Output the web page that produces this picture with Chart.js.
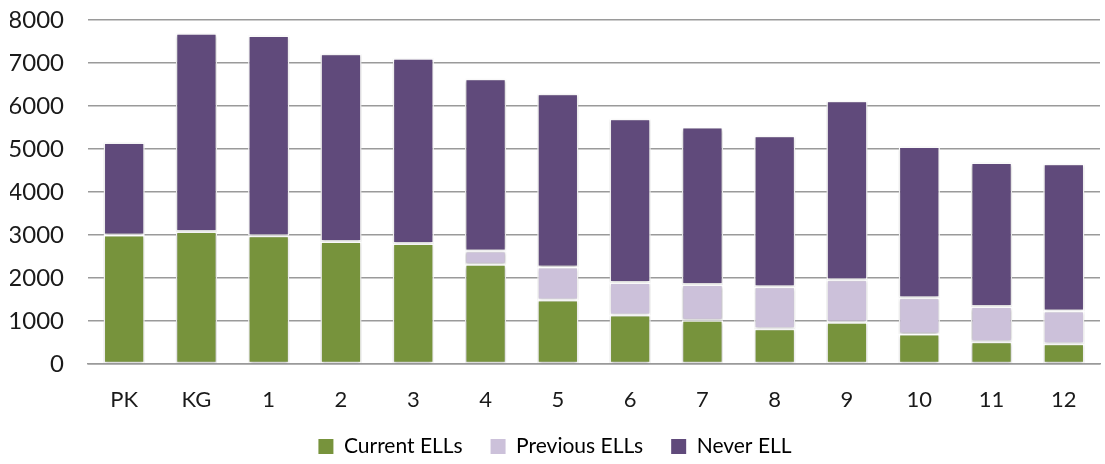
<!DOCTYPE html>
<html>
<head>
<meta charset="utf-8">
<script src="https://cdn.jsdelivr.net/npm/chart.js@4/dist/chart.umd.min.js"></script>
<style>
  html, body { margin: 0; padding: 0; background: #ffffff; }
  #wrap { width: 1105px; height: 464px; }
</style>
</head>
<body>
<div id="wrap"><canvas id="chart" width="1105" height="464"></canvas></div>
<script>
// Grade levels along the horizontal axis
const grades = ['PK', 'KG', '1', '2', '3', '4', '5', '6', '7', '8', '9', '10', '11', '12'];

// Student counts per grade, by English learner status
const currentELLs  = [3000, 3080, 2980, 2850, 2800, 2320, 1490, 1140, 1015, 820, 970, 695, 515, 470];
const previousELLs = [0, 0, 0, 0, 0, 310, 765, 755, 835, 975, 990, 845, 820, 765];
const neverELL     = [2150, 4610, 4660, 4365, 4310, 4005, 4030, 3810, 3660, 3515, 4160, 3520, 3350, 3420];

// Value axis ticks
const yTicks = [0, 1000, 2000, 3000, 4000, 5000, 6000, 7000, 8000];

const FONT = 'Lato, "Open Sans", sans-serif';

// Soft drop shadow behind the bar segments
const barShadow = {
  id: 'barShadow',
  beforeDatasetsDraw(chart) {
    const c = chart.ctx;
    c.save();
    c.shadowColor = 'rgba(0,0,0,0.28)';
    c.shadowBlur = 3;
    c.shadowOffsetX = 0;
    c.shadowOffsetY = 1;
  },
  afterDatasetsDraw(chart) {
    chart.ctx.restore();
  }
};

// The category axis box is kept short so the legend sits close; let its labels overflow it
const freeCategoryLabels = {
  id: 'freeCategoryLabels',
  beforeDraw(chart) {
    chart.scales.x._computeLabelArea = () => undefined;
  }
};

const seg = (label, data, color) => ({
  label, data,
  backgroundColor: color,
  borderColor: '#ffffff',
  borderWidth: 1.5,
  borderSkipped: false,
  barPercentage: 0.57,
  categoryPercentage: 1.0
});

new Chart(document.getElementById('chart'), {
  type: 'bar',
  data: {
    labels: grades,
    datasets: [
      seg('Current ELLs', currentELLs, '#77933C'),
      seg('Previous ELLs', previousELLs, '#CCC1DA'),
      seg('Never ELL', neverELL, '#604A7B')
    ]
  },
  options: {
    responsive: false,
    animation: false,
    layout: { padding: { top: 20, left: 10, right: 5, bottom: -3 } },
    plugins: {
      tooltip: { enabled: false },
      legend: {
        position: 'bottom',
        labels: {
          color: '#1a1a1a',
          font: { family: FONT, size: 21 },
          boxWidth: 15,
          boxHeight: 15,
          padding: 28,
          generateLabels(chart) {
            return chart.data.datasets.map((d, i) => ({
              text: d.label,
              fillStyle: d.backgroundColor,
              strokeStyle: d.backgroundColor,
              lineWidth: 0,
              datasetIndex: i,
              hidden: false
            }));
          }
        }
      }
    },
    scales: {
      x: {
        stacked: true,
        grid: { display: false, drawTicks: false },
        border: { display: true, color: '#9a9a9a', width: 1.5 },
        ticks: { color: '#1a1a1a', font: { family: FONT, size: 22 }, padding: 23 },
        afterFit(scale) { scale.height = 44; }
      },
      y: {
        stacked: true,
        min: 0,
        max: 8000,
        afterBuildTicks(scale) { scale.ticks = yTicks.map(v => ({ value: v })); },
        afterFit(scale) { scale.width = 78; scale.paddingTop = 0; scale.paddingBottom = 0; },
        grid: { color: '#9a9a9a', lineWidth: 1.5, drawTicks: false },
        border: { display: false },
        ticks: {
          color: '#1a1a1a',
          font: { family: FONT, size: 24 },
          padding: 24,
          callback: v => String(v)
        }
      }
    }
  },
  plugins: [barShadow, freeCategoryLabels]
});
</script>
</body>
</html>
